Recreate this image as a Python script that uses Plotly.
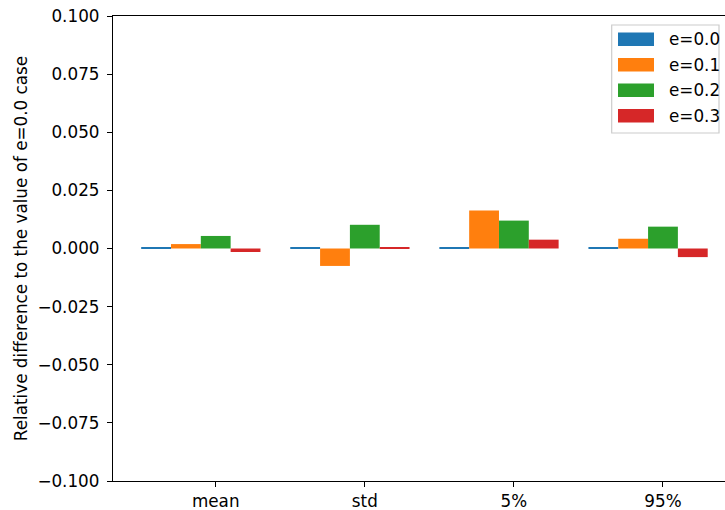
import plotly.graph_objects as go

# data
stats = ["mean", "std", "5%", "95%"]
cases = ["e=0.0", "e=0.1", "e=0.2", "e=0.3"]
e00 = [0.0005, 0.0005, 0.0005, 0.0005]
e01 = [0.0019, -0.0075, 0.0163, 0.0042]
e02 = [0.0054, 0.0102, 0.0120, 0.0094]
e03 = [-0.0015, 0.0006, 0.0038, -0.0037]
colors = ["#1f77b4", "#ff7f0e", "#2ca02c", "#d62728"]

W, H = 725, 510
L, R, T, B = 113, 0, 16, 29
FONT = dict(family="DejaVu Sans", size=16.8, color="black")
width = 0.2
xpos = list(range(len(stats)))

fig = go.Figure()
for k, (name, vals) in enumerate(zip(cases, [e00, e01, e02, e03])):
    fig.add_trace(go.Bar(
        x=xpos, y=vals, name=name,
        width=width, offset=(k - 2) * width - width / 2,
        marker=dict(color=colors[k], line=dict(width=0)),
        showlegend=False,
    ))

fig.update_layout(
    width=W, height=H,
    margin=dict(l=L, r=R, t=T, b=B, pad=0),
    plot_bgcolor="white", paper_bgcolor="white",
    font=FONT, barmode="overlay",
    xaxis=dict(
        range=[-0.689, 3.416], tickvals=xpos, ticktext=stats,
        showgrid=False, zeroline=False,
        showline=True, linecolor="black", linewidth=1.3, mirror=True,
        ticks="outside", ticklen=5, tickwidth=1.3, tickcolor="black",
    ),
    yaxis=dict(
        range=[-0.1, 0.1], dtick=0.025, tick0=0, tickformat=".3f",
        showgrid=False, zeroline=False,
        showline=True, linecolor="black", linewidth=1.3,
        ticks="outside", ticklen=5, tickwidth=1.3, tickcolor="black",
        ticklabelstandoff=4,
        title=dict(text="Relative difference to the value of e=0.0 case",
                   font=FONT, standoff=5),
    ),
)

# matplotlib-style legend box in the upper right
pw, ph = W - L - R, H - T - B
px = lambda v: (v - L) / pw
py = lambda v: (H - B - v) / ph
fig.add_shape(type="rect", xref="paper", yref="paper",
              x0=px(611.7), x1=px(719), y0=py(133), y1=py(25),
              line=dict(color="#cccccc", width=1.2), fillcolor="rgba(255,255,255,0.8)")
for k, name in enumerate(cases):
    yc = 39.2 + k * 25.5
    fig.add_shape(type="rect", xref="paper", yref="paper",
                  x0=px(618), x1=px(654), y0=py(yc + 6.7), y1=py(yc - 6.7),
                  line=dict(width=0), fillcolor=colors[k])
    fig.add_annotation(x=px(667), y=py(yc), xref="paper", yref="paper",
                       text=name, showarrow=False, xanchor="left", yanchor="middle",
                       font=FONT)

fig.write_html("out.html", config={"displayModeBar": False},
               post_script="document.body.style.margin='0';document.body.style.overflow='hidden';")
